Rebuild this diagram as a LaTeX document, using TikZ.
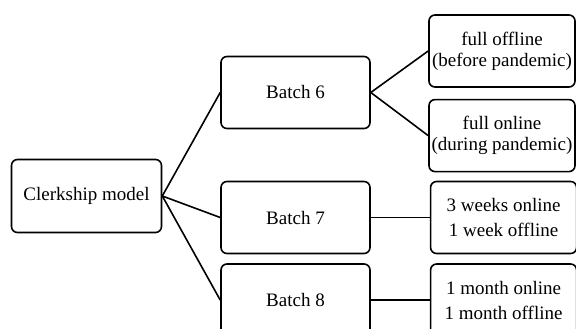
\documentclass[tikz,border=0pt]{standalone}
\usepackage{fontspec}
\setmainfont{Liberation Serif}
\usetikzlibrary{positioning}

\begin{document}
\begin{tikzpicture}[%
    x=1pt, y=-1pt,              % work in pixels of the sketch, y going down
    node distance=11pt and 59pt,% Global setup of box spacing
    ]
% -------------------------------------------------
% Box and line styles
\tikzset{
  base/.style={draw, line width=1.6pt, rounded corners=6pt, align=center,
    font={\fontsize{19}{21}\selectfont}},
  mid/.style={base, minimum width=149pt, minimum height=72pt},
  leaf/.style={base, minimum width=146pt, minimum height=72pt, inner sep=1pt},
  wide/.style={font={\fontsize{19}{25}\selectfont}},
  link/.style={draw, line width=1.6pt}
}
\useasboundingbox (0,0) rectangle (576,329);
% -------------------------------------------------
% Start by placing the nodes
\node [base, minimum width=150pt, minimum height=73pt] (clerk) at (86.5,196) {Clerkship model};
\node [mid] (b6) at (295.5,92.5) {Batch 6};
\node [mid] (b7) at (295.5,217.5) {Batch 7};
\node [mid] (b8) at (295.5,300) {Batch 8};
% the leaves on the right
\node [leaf] (off) at (502,51) {full offline\\(before pandemic)};
\node [leaf, below=of off] (on) {full online\\(during pandemic)};
\node [leaf, wide, right=of b7] (wk) {3 weeks online\\1 week offline};
\node [leaf, wide, right=of b8] (mo) {1 month online\\1 month offline};

% -------------------------------------------------
% Then the connectors
\foreach \b in {b6,b7,b8}
  \path [link] (clerk.east) -- (\b.west);
\path [link] (b6.east) -- (off.west);
\path [link] (b6.east) -- (on.west);
\path [link] (b7.east) -- (wk.west);
\path [link] (b8.east) -- (mo.west);
% -------------------------------------------------
\end{tikzpicture}
\end{document}
